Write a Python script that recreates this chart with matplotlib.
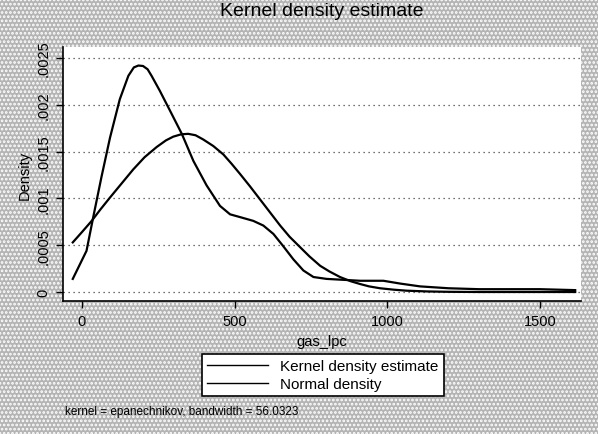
import matplotlib
matplotlib.use('Agg')
import matplotlib.pyplot as plt

# values
kernel_x = [-30, 15, 37, 64, 92, 124, 152, 170, 185, 200, 215, 228, 255, 288, 327, 365, 408,
            452, 485, 518, 561, 594, 627, 659, 692, 725, 758, 801, 856, 911, 987, 1042,
            1107, 1200, 1300, 1400, 1500, 1615]
kernel_y = [1.4, 4.4, 8.0, 12.3, 16.5, 20.6, 23.1, 24.0, 24.2, 24.15, 23.8, 23.1, 21.5, 19.4,
            16.9, 14.0, 11.4, 9.2, 8.3, 8.0, 7.6, 7.1, 6.2, 4.9, 3.5, 2.3, 1.6, 1.4, 1.3,
            1.2, 1.2, 0.9, 0.6, 0.4, 0.3, 0.3, 0.3, 0.2]
normal_x = [-30, 0, 32, 60, 92, 130, 168, 205, 245, 275, 299, 325, 348, 372, 397, 430, 463,
            490, 518, 550, 583, 616, 649, 680, 714, 745, 780, 810, 845, 880, 911, 940, 976,
            1020, 1063, 1130, 1200, 1300, 1400, 1500, 1615]
normal_y = [5.3, 6.4, 7.6, 8.8, 10.1, 11.6, 13.1, 14.4, 15.5, 16.2, 16.6, 16.85, 16.9, 16.75,
            16.3, 15.6, 14.7, 13.7, 12.6, 11.3, 9.9, 8.5, 7.1, 5.9, 4.8, 3.8, 2.8, 2.2, 1.6,
            1.15, 0.85, 0.6, 0.4, 0.25, 0.14, 0.06, 0.02, 0.0, 0.0, 0.0, 0.0]
kernel_y = [v / 10000 for v in kernel_y]
normal_y = [v / 10000 for v in normal_y]

yticks = [0, 0.0005, 0.001, 0.0015, 0.002, 0.0025]
ytick_labels = ['0', '.0005', '.001', '.0015', '.002', '.0025']
xticks = [0, 500, 1000, 1500]

plt.rcParams['font.family'] = ['Liberation Sans', 'DejaVu Sans']
plt.rcParams['hatch.color'] = '#222222'
plt.rcParams['hatch.linewidth'] = 1.3

fig = plt.figure(figsize=(5.98, 4.35), dpi=100)
fig.patch.set_facecolor('#b4b4b4')
fig.patch.set_hatch('....')

ax = fig.add_axes([63/598, 133/435, 518/598, 254/435])
ax.set_facecolor('white')

ax.plot(kernel_x, kernel_y, color='black', lw=1.6, label='Kernel density estimate')
ax.plot(normal_x, normal_y, color='black', lw=1.6, label='Normal density')

ax.set_xlim(-62, 1634)
ax.set_ylim(-0.0000962, 0.002618)
ax.set_yticks(yticks)
ax.set_yticklabels(ytick_labels, rotation=90, va='center')
ax.set_xticks(xticks)
ax.tick_params(axis='both', direction='out', length=5, width=1, labelsize=10.5, pad=4)
for y in yticks:
    ax.axhline(y, color='#444444', lw=0.9, ls=(0, (1, 3)), zorder=0)

for s in ['top', 'right']:
    ax.spines[s].set_visible(False)
for s in ['left', 'bottom']:
    ax.spines[s].set_linewidth(1.2)

ax.set_ylabel('Density', fontsize=10.5)
ax.yaxis.set_label_coords((32 - 63) / 518, 0.5)
ax.set_xlabel('gas_lpc', fontsize=10.5)
ax.xaxis.set_label_coords(0.5, -(335 - 302) / 254)

fig.text(322/598, 1 - 12/435, 'Kernel density estimate', ha='center', va='center', fontsize=14)
fig.text(65/598, 1 - 412/435, 'kernel = epanechnikov, bandwidth = 56.0323', ha='left',
         va='center', fontsize=8.5)

leg = fig.legend(loc='center', bbox_to_anchor=(323/598, 1 - 376/435), fontsize=11,
                 frameon=True, fancybox=False, edgecolor='black', framealpha=1,
                 handlelength=4, borderpad=0.35, labelspacing=0.25)
leg.get_frame().set_linewidth(1.2)
for h in leg.get_lines():
    h.set_linewidth(1.0)

fig.savefig('out.png', dpi=100, facecolor=fig.get_facecolor())
